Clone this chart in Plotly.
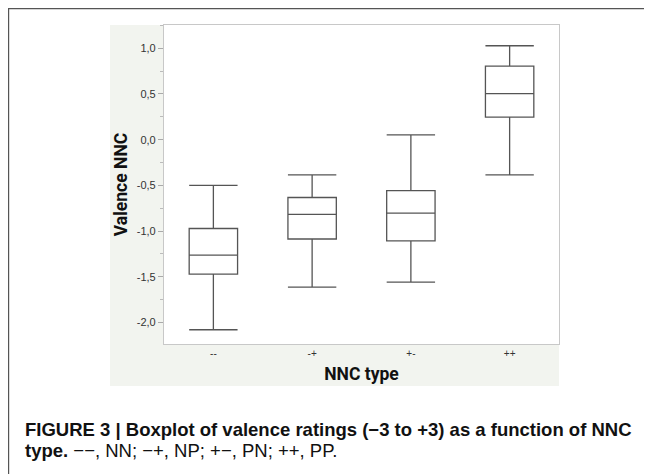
import plotly.graph_objects as go

# ---- data ----
categories = ["--", "-+", "+-", "++"]
upper_whisker = [-0.50, -0.385, 0.052, 1.028]
q3_values = [-0.972, -0.633, -0.557, 0.806]
median_values = [-1.263, -0.817, -0.804, 0.504]
q1_values = [-1.471, -1.087, -1.107, 0.246]
lower_whisker = [-2.08, -1.613, -1.558, -0.385]

y_tick_values = [-2.0, -1.5, -1.0, -0.5, 0.0, 0.5, 1.0]
y_tick_labels = ["-2,0", "-1,5", "-1,0", "-0,5", "0,0", "0,5", "1,0"]

x_title = "NNC type"
y_title = "Valence NNC"
caption_line1 = "<b>FIGURE 3 | Boxplot of valence ratings (\u22123 to +3) as a function of NNC</b>"
caption_line2 = "<b>type.</b> \u2212\u2212, NN; \u2212+, NP; +\u2212, PN; ++, PP."

# ---- layout geometry ----
# The page body has an 8px default margin, so the figure is drawn 8px in from
# the window's corner; all target positions below are window pixels.
OFF = 8
W, H = 652 - OFF, 474 - OFF
PL, PR, PT, PB = 164 - OFF, 559 - OFF, 25 - OFF, 344 - OFF  # plot area edges (figure px)


def px_x(px):
    """window pixel x -> paper x"""
    return (px - OFF - PL) / (PR - PL)


def px_y(py):
    """window pixel y -> paper y"""
    return (PB - (py - OFF)) / (PB - PT)


fig = go.Figure()
fig.add_trace(go.Box(
    x=categories,
    q1=q1_values,
    median=median_values,
    q3=q3_values,
    lowerfence=lower_whisker,
    upperfence=upper_whisker,
    boxpoints=False,
    fillcolor="white",
    line=dict(color="#555555", width=1.3),
    whiskerwidth=1,
    width=0.49,
    showlegend=False,
))

title_font = dict(family="Roboto, Liberation Sans, Arial, sans-serif", size=17.5, color="#111111")

fig.update_layout(
    width=W, height=H,
    margin=dict(l=PL, r=W - PR, t=PT, b=H - PB, pad=0),
    paper_bgcolor="white",
    plot_bgcolor="white",
    font=dict(family="Liberation Sans, Arial, sans-serif", color="#333333"),
    xaxis=dict(
        type="category",
        range=[-0.5, 3.5],
        showline=True, linecolor="#c8c8c8", linewidth=1.2, mirror=True,
        showgrid=False, zeroline=False,
        ticks="",
        tickfont=dict(size=10, color="#333333"),
        title=dict(text="<b>" + x_title + "</b>", font=title_font, standoff=9),
    ),
    yaxis=dict(
        range=[-2.236, 1.255],
        showline=True, linecolor="#c8c8c8", linewidth=1.2, mirror=True,
        showgrid=False, zeroline=False,
        tickmode="array", tickvals=y_tick_values, ticktext=y_tick_labels,
        ticks="outside", ticklen=5, tickcolor="#aaaaaa", tickwidth=1,
        minor=dict(dtick=0.25, tick0=0, ticks="outside", ticklen=3, tickcolor="#bbbbbb"),
        tickfont=dict(size=11, color="#333333"),
        title=dict(text="<b>" + y_title + "</b>", font=title_font, standoff=4),
    ),
    shapes=[
        # light panel behind the chart
        dict(type="rect", xref="paper", yref="paper", layer="below",
             x0=px_x(110), x1=px_x(559), y0=px_y(386), y1=px_y(25),
             fillcolor="#f2f4ef", line=dict(width=0)),
        # white plotting area
        dict(type="rect", xref="paper", yref="paper", layer="below",
             x0=0, x1=1, y0=0, y1=1,
             fillcolor="white", line=dict(width=0)),
        # outer figure frame
        dict(type="rect", xref="paper", yref="paper", layer="below",
             x0=px_x(8.6), x1=px_x(645.5), y0=px_y(500), y1=px_y(8.6),
             fillcolor="rgba(0,0,0,0)", line=dict(color="#555555", width=1.2)),
    ],
    annotations=[
        dict(text=caption_line1, xref="paper", yref="paper", x=px_x(22.5), y=px_y(429.5),
             xanchor="left", yanchor="middle", showarrow=False, align="left",
             font=dict(family="Liberation Sans, Arial, sans-serif", size=18.5, color="#111111")),
        dict(text=caption_line2, xref="paper", yref="paper", x=px_x(22.5), y=px_y(450.5),
             xanchor="left", yanchor="middle", showarrow=False, align="left",
             font=dict(family="Liberation Sans, Arial, sans-serif", size=18.5, color="#111111")),
    ],
)

fig.write_html("out.html")
